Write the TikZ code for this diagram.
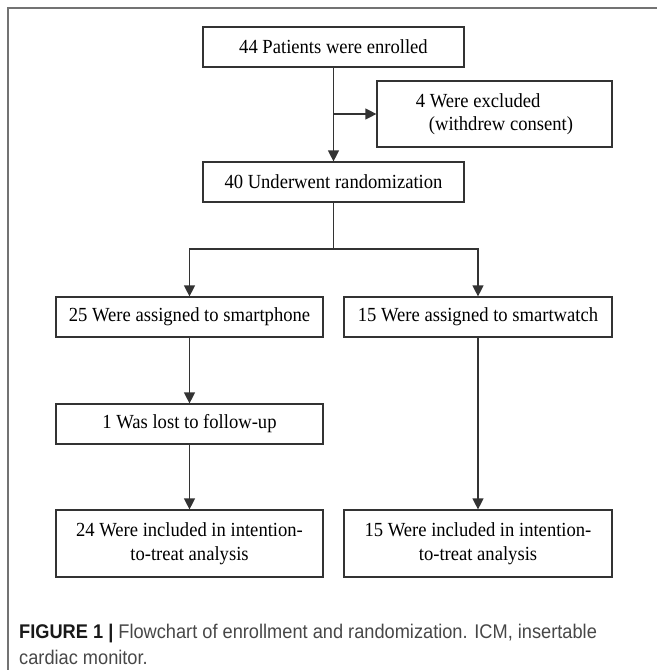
\documentclass[tikz,border=0pt]{standalone}
\usepackage{fontspec}
\setmainfont{Liberation Serif}[FakeStretch=0.93]
\newfontfamily\capfont{Liberation Sans}[FakeStretch=0.92]
\usetikzlibrary{arrows.meta}
\begin{document}
\begin{tikzpicture}[x=1pt,y=1pt,
  box/.style={draw=black!80,line width=1.2pt,inner sep=0pt,align=center,
    font=\fontsize{20}{23.5}\selectfont},
  conn/.style={draw=black!80,line width=1.2pt},
  arr/.style={conn,-{Triangle[length=11pt,width=11pt]}},
  captext/.style={anchor=base west,inner sep=0pt,text=black!72,
    font=\capfont\fontsize{19.8}{26}\selectfont}]
\useasboundingbox (0,0) rectangle (657,-670);
\draw[black!55,line width=1.4pt] (8,-670) -- (8,-8) -- (657,-8);
\node[box,minimum width=261pt,minimum height=40pt] (enr) at (333.5,-47) {44 Patients were enrolled};
\node[box,minimum width=235pt,minimum height=66pt,align=left] (excl) at (494.5,-114) {4 Were excluded\\\hspace*{13pt}(withdrew consent)};
\node[box,minimum width=261pt,minimum height=40pt] (rand) at (333.5,-182) {40 Underwent randomization};
\node[box,minimum width=267pt,minimum height=40pt] (phone) at (189.5,-317) {25 Were assigned to smartphone};
\node[box,minimum width=268pt,minimum height=40pt] (watch) at (478,-317) {15 Were assigned to smartwatch};
\node[box,minimum width=267pt,minimum height=40pt] (lost) at (189.5,-424) {1 Was lost to follow-up};
\node[box,minimum width=267pt,minimum height=67pt] (itt1) at (189.5,-543.5) {24 Were included in intention-\\to-treat analysis};
\node[box,minimum width=268pt,minimum height=67pt] (itt2) at (478,-543.5) {15 Were included in intention-\\to-treat analysis};
\coordinate (j1) at (enr.south |- excl.west);
\coordinate (s0) at (333.5,-249);
\draw[arr] (enr.south) -- (rand.north);
\draw[arr] (j1) -- (excl.west);
\draw[conn] (rand.south) -- (s0);
\draw[arr] (s0) -| (phone.north);
\draw[arr] (s0) -| (watch.north);
\draw[arr] (phone.south) -- (lost.north);
\draw[arr] (lost.south) -- (itt1.north);
\draw[arr] (watch.south) -- (itt2.north);
\node[captext] (cap1) at (19,-638) {\textbf{\color{black!90}FIGURE 1 |} Flowchart of enrollment and randomization. ICM, insertable};
\node[captext] (cap2) at (19,-664) {cardiac monitor.};
\end{tikzpicture}
\end{document}
